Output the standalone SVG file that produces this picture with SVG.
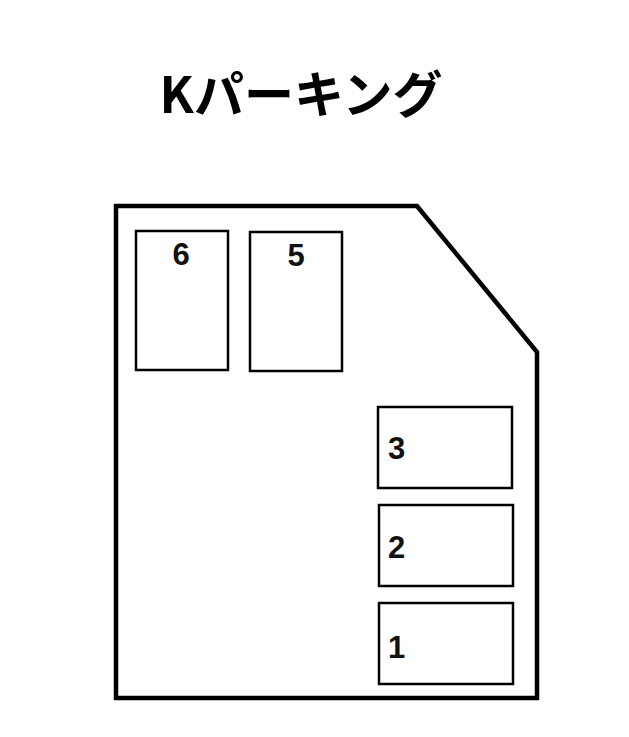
<svg xmlns="http://www.w3.org/2000/svg" width="629" height="737" viewBox="0 0 629 737">
<style>
.lot{fill:none;stroke:#000;stroke-width:4.5;stroke-linejoin:miter}
.space{fill:#fff;stroke:#000;stroke-width:2.5}
.num{font-family:"Liberation Sans","Noto Sans CJK JP",sans-serif;font-weight:bold;font-size:31px;fill:#111}
.title{font-family:"Noto Sans CJK JP","Liberation Sans",sans-serif;font-weight:bold;font-size:50px;fill:#000}
</style>
<rect width="629" height="737" fill="#fff"/>
<text class="title" x="301" y="113" text-anchor="middle">Kパーキング</text>
<path id="lot" class="lot" d="M116,206 H417 L537,352 V698 H116 Z"/>
<g id="space6"><rect class="space" x="136" y="231" width="92" height="139"/><text class="num" x="181" y="265" text-anchor="middle">6</text></g>
<g id="space5"><rect class="space" x="250" y="232" width="92" height="139"/><text class="num" x="296" y="266" text-anchor="middle">5</text></g>
<g id="space3"><rect class="space" x="378" y="407" width="134" height="81"/><text class="num" x="388" y="459">3</text></g>
<g id="space2"><rect class="space" x="379" y="505" width="134" height="81"/><text class="num" x="388" y="558">2</text></g>
<g id="space1"><rect class="space" x="379" y="603" width="134" height="81"/><text class="num" x="388" y="658">1</text></g>
</svg>
